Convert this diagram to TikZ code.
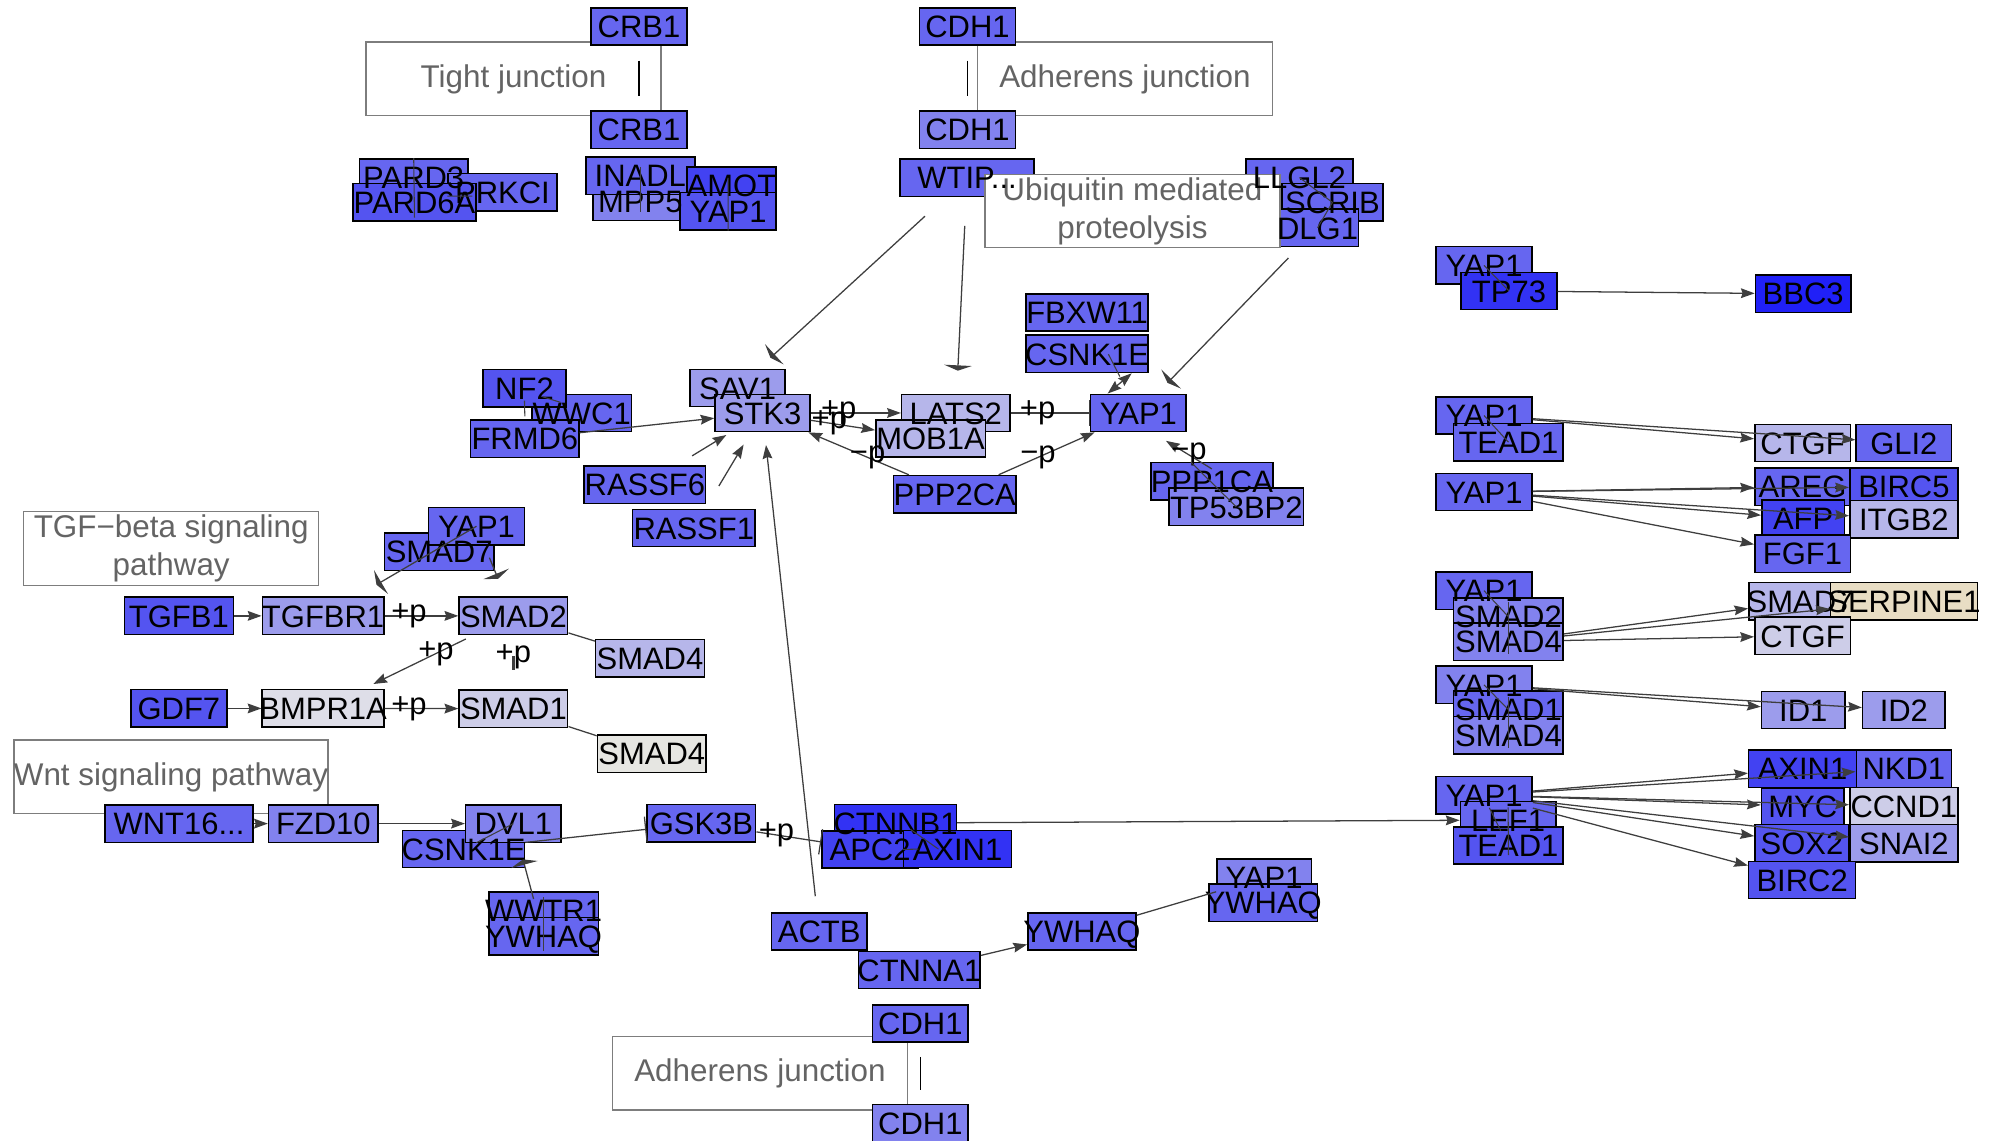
\documentclass[tikz,border=0pt]{standalone}
\usepackage{fontspec}
\setmainfont{Liberation Sans}
\usepackage{xcolor}
\usetikzlibrary{arrows.meta}
\pgfdeclarelayer{boxes}
\pgfsetlayers{boxes,main}

% fills by expression level
\definecolor{gm}{RGB}{102,102,240}
\definecolor{gd}{RGB}{84,84,240}
\definecolor{gdd}{RGB}{66,66,242}
\definecolor{gx}{RGB}{50,50,244}
\definecolor{gbb}{RGB}{32,32,247}
\definecolor{gl1}{RGB}{130,130,238}
\definecolor{gl2}{RGB}{156,156,236}
\definecolor{gl3}{RGB}{182,182,234}
\definecolor{gl4}{RGB}{205,205,232}
\definecolor{gl5}{RGB}{222,222,232}
\definecolor{gy}{RGB}{230,230,226}
\definecolor{gb}{RGB}{232,221,196}
\definecolor{edgec}{RGB}{62,62,62}
\definecolor{pgray}{RGB}{125,125,125}
\definecolor{ptext}{RGB}{100,100,100}

\begin{document}
\begin{tikzpicture}[x=0.6pt, y=-0.6pt,
  gene/.style={draw=black, line width=0.7pt, minimum height=17.6pt, inner sep=0pt},
  gtext/.style={font=\fontsize{14.6}{16}\selectfont, inner sep=0pt, text height=10.5pt, text depth=0pt},
  pbox/.style={draw=pgray, line width=0.6pt, fill=white, minimum height=34.8pt,
               minimum width=139pt, inner sep=0pt, align=center, text=ptext,
               font=\fontsize{14.8}{18}\selectfont},
  lbl/.style={font=\fontsize{14.6}{16}\selectfont, inner sep=0pt},
  act/.style={draw=edgec, line width=0.6pt, -{Stealth[length=6.5pt,width=4.6pt,inset=0.8pt]}},
  act2/.style={draw=edgec, line width=0.6pt, {Stealth[length=6.5pt,width=4.6pt,inset=0.8pt]}-{Stealth[length=6.5pt,width=4.6pt,inset=0.8pt]}},
  inh/.style={draw=edgec, line width=0.6pt, -{Triangle[length=2.5pt,width=13pt]}},
  barr/.style={draw=edgec, line width=0.6pt, -{Bar[width=12pt]}},
  cplx/.style={draw=edgec, line width=0.5pt},
  link/.style={draw=edgec, line width=0.6pt},
  jtick/.style={draw=black, line width=0.6pt}
]
\useasboundingbox (0,0) rectangle (1568,896);

% pathway maps
\begin{pgfonlayer}{boxes}
\node[pbox] (tjbox) at (403.4,62) {Tight junction};
\node[pbox] (ajbox) at (883.7,62) {Adherens junction};
\node[pbox] (tgfbox) at (134.5,431) {TGF−beta signaling\\pathway};
\node[pbox] (wntbox) at (134.3,610.3) {Wnt signaling pathway};
\node[pbox] (aj2box) at (597,843) {Adherens junction};
\end{pgfonlayer}

% genes: name/x/y/width/fill/label
\foreach \id/\x/\y/\w/\c/\t in {
  crb1a/502/20.8/75.4/gm/CRB1, crb1b/502/102/75.4/gm/CRB1,
  pard3/325/139.5/85/gm/PARD3, prkci/394.7/151/85.5/gm/PRKCI,
  pard6a/325.6/159/96.6/gd/PARD6A, mpp5/503/158.5/74.7/gl1/MPP5,
  inadl/503/138/85.6/gm/INADL, amot/574.6/145.7/70/gdd/AMOT,
  yap1tj/572/166/75.5/gd/YAP1,
  cdh1a/760/20.8/75.4/gm/CDH1, cdh1b/760/102/75.4/gl1/CDH1,
  wtip/759.7/139.5/105.3/gm/WTIP.{}.{}.,
  llgl2/1020.8/139.5/84/gm/LLGL2, scrib/1046.7/159/79.4/gm/SCRIB,
  dlg1/1035/179/64.5/gm/DLG1,
  fbxw11/854/245.5/96/gm/FBXW11, csnk1eu/854/278/96/gm/CSNK1E,
  sav1/579.4/304.8/74.6/gl2/SAV1, stk3/599/324.4/74.6/gl2/STK3,
  lats2/750.8/324.4/85/gl3/LATS2, mob1a/731/344.5/86/gl3/MOB1A,
  yap1h/894.3/324.4/75/gm/YAP1,
  wwc1/457/324.4/78/gm/WWC1, nf2/412/305/65/gd/NF2,
  frmd6/412.3/344.6/85/gm/FRMD6,
  rassf6/506.6/380.7/95.6/gm/RASSF6, rassf1/545/414.8/96/gm/RASSF1,
  ppp2ca/750/388.2/96/gm/PPP2CA, ppp1ca/952/378.1/96/gm/PPP1CA,
  tp53bp2/971.2/398.2/105.5/gl1/TP53BP2,
  smad7/345/433.3/85.8/gm/SMAD7, yap1s/374.3/413.4/75.2/gm/YAP1,
  tgfb1/140.5/483.8/85.7/gd/TGFB1, tgfbr1/253.8/483.8/95.5/gl2/TGFBR1,
  smad2/403.3/483.8/85.4/gl2/SMAD2, smad4a/510.6/517/85.3/gl3/SMAD4,
  gdf7/140.5/556.5/75.5/gd/GDF7, bmpr1a/253.8/556.5/95.6/gl5/BMPR1A,
  smad1/403.3/556.7/85.4/gl4/SMAD1, smad4b/512/592/85.4/gy/SMAD4,
  wnt16/140.6/647/116.5/gm/WNT16.{}.{}., fzd10/254/647/86/gl1/FZD10,
  csnk1el/364.2/667/95.7/gm/CSNK1E, dvl1/403.3/647/75/gl1/DVL1,
  wwtr1/427/715.5/86/gm/WWTR1, ywhaql/427/735.5/86/gm/YWHAQ,
  gsk3b/551/646.8/85.3/gm/GSK3B,
  ctnnb1/703.5/646.5/95.7/gx/CTNNB1, apc2/683.5/667.3/75.5/gdd/APC2,
  axin1w/752.2/667/85/gx/AXIN1,
  actb/643.5/731.7/75/gm/ACTB, ctnna1/722.2/762/95.6/gm/CTNNA1,
  ywhaqm/849.9/731.7/85/gm/YWHAQ,
  yap1y/993/689.4/74.2/gl1/YAP1, ywhaqr/992.4/709.2/85.2/gm/YWHAQ,
  cdh1c/723/804/75/gm/CDH1, cdh1d/723/882.4/75/gl1/CDH1,
  yap1t/1165.8/208.5/75.5/gm/YAP1, tp73/1185.4/228.6/75.3/gx/TP73,
  bbc3/1416.5/230.8/75/gbb/BBC3,
  yap1te/1165.8/326.4/75.5/gm/YAP1, tead1/1185/347.4/86/gm/TEAD1,
  ctgfa/1416/348/75/gl3/CTGF, gli2/1495.6/348/75/gm/GLI2,
  yap1g/1165.8/386.5/75.5/gm/YAP1,
  areg/1416/382.3/75/gm/AREG, birc5/1495.6/382.3/85/gd/BIRC5,
  afp/1416.5/407.5/65/gdd/AFP, itgb2/1495.6/408/85/gl3/ITGB2,
  fgf1/1416/435/75/gm/FGF1,
  yap1s2/1165.8/464/75.5/gm/YAP1, smad2r/1185/484.5/86/gl1/SMAD2,
  smad4r/1185/504/86/gl1/SMAD4,
  smad7r/1414/472.4/80.3/gl3/SMAD7, serpine1/1495.7/472.4/115.4/gb/SERPINE1,
  ctgfb/1416/499.5/75/gl4/CTGF,
  yap1s1/1165.8/538/75.5/gl1/YAP1, smad1r/1185/557.5/86/gm/SMAD1,
  smad4rb/1185/577.5/86/gl1/SMAD4,
  id1/1416.6/557.8/65.6/gl2/ID1, id2/1495.6/557.8/64.8/gl2/ID2,
  yap1l/1165.8/624.6/75.5/gm/YAP1, lef1/1184.7/644.2/75/gm/LEF1,
  tead1b/1185/664.2/86/gd/TEAD1,
  axin1r/1416/603.8/84.6/gdd/AXIN1, nkd1/1495.6/603.8/74.7/gm/NKD1,
  myc/1416.2/633.5/64.8/gd/MYC, ccnd1/1495.6/633.3/85/gl4/CCND1,
  sox2/1415.6/662.5/74/gd/SOX2, snai2/1495.6/662.5/85/gl2/SNAI2,
  birc2/1415.7/691.3/84/gd/BIRC2}{
  \begin{pgfonlayer}{boxes}
    \node[gene, fill=\c, minimum width=\w*0.6pt] (\id) at (\x,\y) {};
  \end{pgfonlayer}
  \node[gtext] (\id-t) at (\id) {\t};
}

\begin{pgfonlayer}{boxes}
\node[pbox, minimum height=34.4pt] (ubibox) at (889.6,166) {Ubiquitin mediated\\proteolysis};
\end{pgfonlayer}

% junction ticks
\draw[jtick, shorten <=7pt, shorten >=7pt] (crb1a) -- (crb1b);
\draw[jtick, shorten <=7pt, shorten >=7pt] (cdh1a) -- (cdh1b);
\draw[jtick, shorten <=6.6pt, shorten >=6.6pt] (cdh1c) -- (cdh1d);

% complexes, top
\draw[cplx] (pard3.north) -- ([yshift=2pt]pard6a.south);
\draw[cplx] ([yshift=-1.8pt]prkci.west) -- ([xshift=-2pt,yshift=3pt]pard6a.east);
\draw[cplx] ([yshift=4.2pt]inadl.center) -- ([yshift=-5pt]mpp5.center);
\draw[cplx] ([xshift=-1.6pt,yshift=3.6pt]amot.center) -- (yap1tj.south);
\draw[cplx] (llgl2.center) -- (scrib.center) -- (dlg1.center);

% hippo core
\draw[inh, shorten <=13.4pt, shorten >=7.5pt] (wtip) -- (sav1);
\draw[inh, shorten <=13.6pt, shorten >=10.8pt] (wtip) -- (lats2);
\draw[inh, shorten <=7pt, shorten >=7pt] (dlg1) -- (yap1h);
\draw[cplx, shorten <=11.8pt, shorten >=9pt] (fbxw11) -- (yap1h);
\draw[act2] ([xshift=21pt]csnk1eu.south) -- ([xshift=-14.5pt]yap1h.north);
\draw[cplx] ([yshift=3.3pt]nf2.south) -- ([yshift=1.4pt]frmd6.north);
\draw[cplx] ([xshift=8.5pt,yshift=-4pt]nf2.center) -- ([xshift=-10pt,yshift=5pt]wwc1.center);
\draw[act] (frmd6) -- (stk3);
\draw[act] (stk3) -- (lats2) node[lbl,pos=.31]{+p};
\draw[act] (stk3) -- (mob1a) node[lbl,pos=.29]{+p};
\draw[barr] (lats2) -- (yap1h) node[lbl,pos=.34]{+p};
\draw[act] (ppp2ca) -- (stk3) node[lbl,pos=.41]{−p};
\draw[act] (ppp2ca) -- (yap1h) node[lbl,pos=.41]{−p};
\draw[act] ([yshift=-3.3pt]ppp1ca.north) -- ([xshift=13pt,yshift=-4pt]yap1h.south) node[lbl,pos=.5]{−p};
\draw[cplx] ([xshift=-10pt]ppp1ca.north) -- (tp53bp2.center);
\draw[act, shorten <=8.5pt, shorten >=2.4pt] (rassf6) -- (stk3);
\draw[act, shorten <=12.4pt, shorten >=6.7pt] (rassf1) -- (stk3);
\draw[act, shorten <=7.5pt, shorten >=6pt] (actb) -- (stk3);

% TGF-beta / BMP
\draw[act] (tgfb1) -- (tgfbr1);
\draw[act] (tgfbr1) -- (smad2) node[lbl,pos=.33]{+p};
\draw[link] (smad2) -- (smad4a);
\draw[act, shorten <=4pt, shorten >=5.4pt] (smad2) -- (bmpr1a) node[lbl,pos=.34]{+p};
\draw[draw=edgec, line width=1.1pt, shorten <=9.7pt, shorten >=9pt] (smad2) -- (smad1) node[lbl,pos=.4]{+p};
\draw[inh, shorten >=11pt] (yap1s.center) -- (tgfbr1);
\draw[inh, shorten <=16pt, shorten >=9pt] (yap1s.center) -- (smad2);
\draw[act] (gdf7) -- (bmpr1a);
\draw[act] (bmpr1a) -- (smad1) node[lbl,pos=.33]{+p};
\draw[link] (smad1) -- (smad4b);

% Wnt
\draw[act] (wnt16) -- (fzd10);
\draw[act] (fzd10) -- (dvl1);
\draw[cplx] (dvl1.center) -- ([xshift=6pt,yshift=3pt]csnk1el.center);
\draw[barr] (csnk1el) -- (gsk3b);
\draw[inh, shorten <=8.7pt, shorten >=8pt] (ywhaql) -- (dvl1);
\draw[cplx] ([yshift=-2.8pt]wwtr1.north) -- ([yshift=2.4pt]ywhaql.south);
\draw[barr] (gsk3b) -- (apc2) node[lbl,pos=.31]{+p};
\draw[cplx] ([xshift=7pt,yshift=-3pt]ctnnb1.center) -- ([xshift=-9pt]axin1w.center);
\draw[cplx] ([xshift=15.5pt]apc2.center) -- ([xshift=-18.5pt]axin1w.center);
\draw[act] (ctnnb1) -- (lef1);
\draw[act] (ctnna1) -- (ywhaqm);
\draw[link] (ywhaqm) -- (yap1y);

% YAP1 targets
\draw[cplx] (yap1t.center) -- (tp73.center);
\draw[act] (tp73) -- (bbc3);
\draw[cplx] (yap1te.center) -- (tead1.center);
\draw[act] (yap1te) -- (ctgfa);
\draw[act] (yap1te) -- (gli2);
\foreach \g in {areg,birc5,afp,itgb2,fgf1} \draw[act] (yap1g) -- (\g);
\draw[cplx] (yap1s2.center) -- (smad2r.center);
\draw[cplx] ([yshift=7pt]smad2r.center) -- ([yshift=-6pt]smad4r.center);
\foreach \g in {smad7r,serpine1,ctgfb} \draw[act] (smad4r) -- (\g);
\draw[cplx] (yap1s1.center) -- (smad1r.center);
\draw[cplx] ([yshift=6pt]smad1r.center) -- ([yshift=-6pt]smad4rb.center);
\foreach \g in {id1,id2} \draw[act] (yap1s1) -- (\g);
\draw[cplx] ([xshift=2.5pt,yshift=-6pt]yap1l.center) -- ([xshift=-3.5pt,yshift=-5pt]lef1.center);
\draw[cplx] ([yshift=6pt]lef1.center) -- ([yshift=-4.5pt]tead1b.center);
\foreach \g in {axin1r,nkd1,myc,ccnd1,sox2,snai2,birc2} \draw[act] (yap1l) -- (\g);
\end{tikzpicture}
\end{document}
